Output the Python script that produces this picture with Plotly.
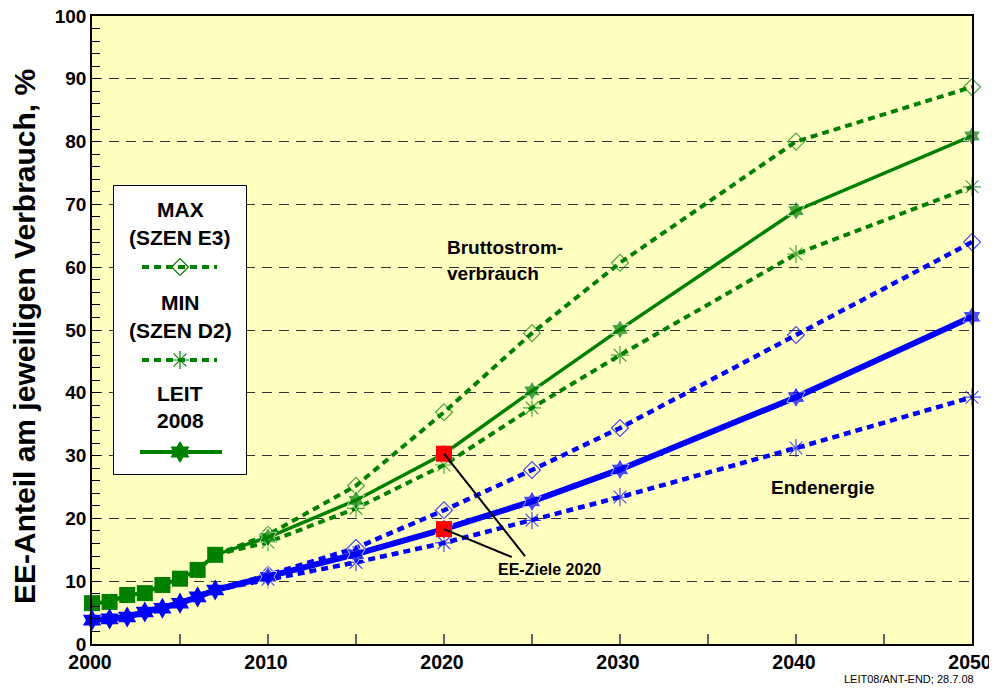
import plotly.graph_objects as go

# ---------------- data ----------------
hist_years = [2000, 2001, 2002, 2003, 2004, 2005, 2006, 2007]
strom_hist = [6.5, 6.7, 7.8, 8.1, 9.4, 10.4, 11.8, 14.2]
end_hist = [3.8, 4.0, 4.3, 5.1, 5.7, 6.5, 7.5, 8.6]

scen_years = [2007, 2010, 2015, 2020, 2025, 2030, 2040, 2050]
strom_max = [14.2, 17.4, 25.2, 36.9, 49.5, 60.7, 80.0, 88.7]
strom_leit = [14.2, 17.0, 22.9, 30.3, 40.3, 50.1, 69.0, 80.9]
strom_min = [14.2, 16.2, 21.6, 28.5, 37.6, 46.0, 62.1, 72.8]
end_max = [8.6, 11.0, 15.3, 21.3, 27.7, 34.4, 49.2, 64.0]
end_leit = [8.6, 10.7, 14.3, 18.3, 22.7, 27.8, 39.3, 52.1]
end_min = [8.6, 10.3, 13.0, 16.1, 19.7, 23.4, 31.2, 39.3]

ziel_years = [2020, 2020]
ziel_values = [30.3, 18.3]

x_ticks = [2000, 2010, 2020, 2030, 2040, 2050]
y_ticks = [0, 10, 20, 30, 40, 50, 60, 70, 80, 90, 100]

# ---------------- style ----------------
GREEN = "#008000"
BLUE = "#0000FF"
RED = "#FF0000"
FONT = "Liberation Sans, Arial, sans-serif"
DOT = "7px,5px"

fig = go.Figure()


def msizes(n, s):
    return [0] + [s] * (n - 1)


n = len(scen_years)
# Bruttostromverbrauch (green)
fig.add_trace(go.Scatter(x=scen_years, y=strom_max, mode="lines+markers", cliponaxis=False,
                         line=dict(color=GREEN, width=4, dash=DOT),
                         marker=dict(symbol="diamond-open", size=msizes(n, 13), color=GREEN,
                                     line=dict(width=1.2, color=GREEN))))
fig.add_trace(go.Scatter(x=scen_years, y=strom_min, mode="lines+markers", cliponaxis=False,
                         line=dict(color=GREEN, width=4, dash=DOT),
                         marker=dict(symbol="asterisk-open", size=msizes(n, 15), color=GREEN,
                                     line=dict(width=1.2, color=GREEN))))
fig.add_trace(go.Scatter(x=scen_years, y=strom_leit, mode="lines+markers", cliponaxis=False,
                         line=dict(color=GREEN, width=3.5),
                         marker=dict(symbol="hexagram", size=msizes(n, 15), color=GREEN)))
fig.add_trace(go.Scatter(x=hist_years, y=strom_hist, mode="lines+markers", cliponaxis=False,
                         line=dict(color=GREEN, width=4),
                         marker=dict(symbol="square", size=16, color=GREEN)))

# Endenergie (blue)
fig.add_trace(go.Scatter(x=scen_years, y=end_max, mode="lines+markers", cliponaxis=False,
                         line=dict(color=BLUE, width=4.5, dash=DOT),
                         marker=dict(symbol="diamond-open", size=msizes(n, 13), color=BLUE,
                                     line=dict(width=1.2, color=BLUE))))
fig.add_trace(go.Scatter(x=scen_years, y=end_min, mode="lines+markers", cliponaxis=False,
                         line=dict(color=BLUE, width=4.5, dash=DOT),
                         marker=dict(symbol="asterisk-open", size=msizes(n, 15), color=BLUE,
                                     line=dict(width=1.2, color=BLUE))))
fig.add_trace(go.Scatter(x=scen_years, y=end_leit, mode="lines+markers", cliponaxis=False,
                         line=dict(color=BLUE, width=6),
                         marker=dict(symbol="hexagram", size=msizes(n, 16), color=BLUE)))
fig.add_trace(go.Scatter(x=hist_years, y=end_hist, mode="lines+markers", cliponaxis=False,
                         line=dict(color=BLUE, width=6),
                         marker=dict(symbol="hexagram", size=16, color=BLUE)))

# EE-Ziele 2020
fig.add_trace(go.Scatter(x=ziel_years, y=ziel_values, mode="markers", cliponaxis=False,
                         marker=dict(symbol="square", size=16, color=RED)))

# ---------------- legend box (second subplot in pixel-like units) ----------------
LX0, LX1, LY0, LY1 = 113, 247, 185, 475
leg_items = [
    (267, DOT, "diamond-open", 4, 142, 217),
    (360, DOT, "asterisk-open", 4, 142, 217),
    (452, "solid", "hexagram", 4, 140, 222),
]
for ly, dash, sym, w, xa, xb in leg_items:
    fig.add_trace(go.Scatter(x=[xa, xb], y=[ly, ly], mode="lines", xaxis="x2", yaxis="y2",
                             line=dict(color=GREEN, width=w, dash=dash), hoverinfo="skip"))
    fig.add_trace(go.Scatter(x=[180], y=[ly], mode="markers", xaxis="x2", yaxis="y2",
                             marker=dict(symbol=sym, size=15 if sym != "diamond-open" else 13,
                                         color=GREEN,
                                         line=dict(width=1.2, color=GREEN)),
                             hoverinfo="skip"))

shapes = [
    dict(type="rect", xref="x2", yref="y2", x0=LX0 + 0.5, x1=LX1 - 0.5, y0=LY0 + 0.5, y1=LY1 - 0.5,
         fillcolor="white", line=dict(color="black", width=1), layer="between"),
]
ends = [(2024.6, 14.0), (2023.85, 13.85)]
for (zx, zy), (ex, ey) in zip(zip(ziel_years, ziel_values), ends):
    shapes.append(dict(type="line", xref="x", yref="y", x0=zx, y0=zy, x1=ex, y1=ey,
                       line=dict(color="black", width=2), layer="above"))


def pxx(px):
    return (px - 92) / 880.0


def pxy(py):
    return (644 - py) / 628.0


annotations = []
for txt, py in [("MAX", 209), ("(SZEN E3)", 237), ("MIN", 302), ("(SZEN D2)", 330),
                ("LEIT", 393), ("2008", 420)]:
    annotations.append(dict(text=txt, x=180, y=py, xref="x2", yref="y2", showarrow=False,
                            xanchor="center", yanchor="middle",
                            font=dict(family=FONT, size=21, color="black", weight="bold")))

annotations += [
    dict(text="Bruttostrom-", x=2020.05, y=(644 - 247) / 6.28, xref="x", yref="y", showarrow=False,
         xanchor="left", yanchor="middle", font=dict(family=FONT, size=19, color="black", weight="bold")),
    dict(text="verbrauch", x=2020.05, y=(644 - 273) / 6.28, xref="x", yref="y", showarrow=False,
         xanchor="left", yanchor="middle", font=dict(family=FONT, size=19, color="black", weight="bold")),
    dict(text="Endenergie", x=2041.5, y=25.0, xref="x", yref="y", showarrow=False,
         xanchor="center", yanchor="middle", font=dict(family=FONT, size=19, color="black", weight="bold")),
    dict(text="EE-Ziele 2020", x=2026.0, y=11.8, xref="x", yref="y", showarrow=False,
         xanchor="center", yanchor="middle", font=dict(family=FONT, size=16, color="black", weight="bold")),
    dict(text="EE-Anteil am jeweiligen Verbrauch, %", x=pxx(25), y=pxy(337), xref="paper", yref="paper",
         showarrow=False, textangle=-90, xanchor="center", yanchor="middle",
         font=dict(family=FONT, size=30, color="black", weight="bold")),
    dict(text="LEIT08/ANT-END; 28.7.08", x=pxx(976), y=pxy(679), xref="paper", yref="paper",
         showarrow=False, xanchor="right", yanchor="middle",
         font=dict(family=FONT, size=11, color="black")),
]

# the page places the figure 8px in from the top-left corner (body margin);
# size and margins keep the plot area where it is in the reference, without scrollbars
fig.update_layout(
    width=989, height=677,
    margin=dict(l=84, r=25, t=8, b=41, autoexpand=False),
    paper_bgcolor="white",
    plot_bgcolor="#FFFFC0",
    showlegend=False,
    font=dict(family=FONT, color="black"),
    shapes=shapes,
    annotations=annotations,
    xaxis=dict(range=[2000, 2050], tickvals=x_ticks, ticks="inside", ticklen=10, tickcolor="#666",
               tickwidth=1.5, automargin=False, ticklabeloverflow="allow", ticklabelshift=-2,
               minor=dict(tickvals=[2005, 2015, 2025, 2035, 2045], ticks="inside", ticklen=10,
                          tickcolor="#666", tickwidth=1.5),
               showgrid=False, zeroline=False, showline=True, linecolor="black", linewidth=1.5,
               mirror=True, tickfont=dict(family=FONT, size=19.5, color="black", weight="bold")),
    yaxis=dict(range=[0, 100], tickvals=y_ticks, ticks="inside", ticklen=8, tickcolor="black",
               automargin=False, ticklabeloverflow="allow",
               minor=dict(dtick=2, ticks="inside", ticklen=8, tickcolor="black", showgrid=False),
               showgrid=True, gridcolor="#333", griddash="10px,7px", gridwidth=1,
               zeroline=False, showline=True, linecolor="black", linewidth=1.5, mirror=True,
               tickfont=dict(family=FONT, size=19, color="black", weight="bold")),
    xaxis2=dict(domain=[pxx(LX0), pxx(LX1)], range=[LX0, LX1], visible=False, anchor="y2",
                fixedrange=True, automargin=False),
    yaxis2=dict(domain=[pxy(LY1), pxy(LY0)], range=[LY1, LY0], visible=False, anchor="x2",
                fixedrange=True, automargin=False),
)

fig.write_html("out.html")
